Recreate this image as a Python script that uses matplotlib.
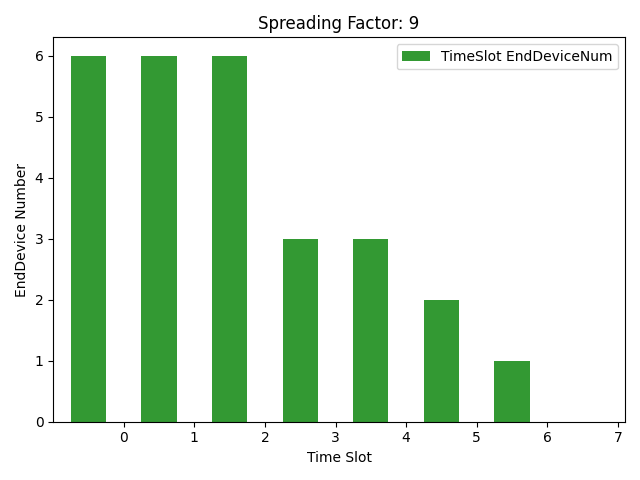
import numpy as np
import matplotlib
matplotlib.use('Agg')
import matplotlib.pyplot as plt

slots = [0, 1, 2, 3, 4, 5, 6, 7]
device_num = [6, 6, 6, 3, 3, 2, 1, 0]

fig, ax = plt.subplots(figsize=(6.4, 4.8), dpi=100)
ax.bar(np.array(slots) - 0.5, device_num, width=0.5, color='g', alpha=0.8,
       label='TimeSlot EndDeviceNum')
ax.set_xticks(slots)
ax.set_xlim(-1, 7.1)
ax.set_title('Spreading Factor: 9')
ax.set_xlabel('Time Slot')
ax.set_ylabel('EndDevice Number')
ax.legend()
fig.tight_layout()
fig.savefig('out.png')
